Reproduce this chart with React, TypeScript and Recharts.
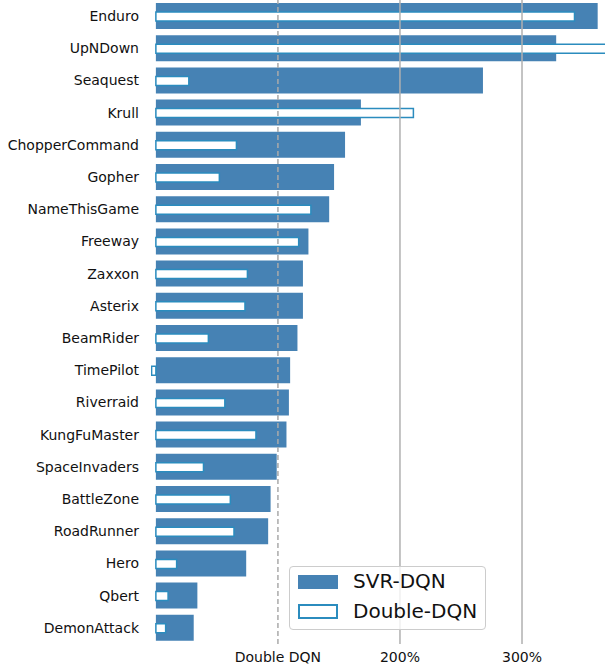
import { Bar, BarChart, ReferenceLine, XAxis, YAxis } from "recharts";

const games = [
  "Enduro", "UpNDown", "Seaquest", "Krull", "ChopperCommand", "Gopher", "NameThisGame",
  "Freeway", "Zaxxon", "Asterix", "BeamRider", "TimePilot", "Riverraid", "KungFuMaster",
  "SpaceInvaders", "BattleZone", "RoadRunner", "Hero", "Qbert", "DemonAttack",
];
const svrDqn = [362, 328, 268, 168, 155, 146, 142, 125, 120.5, 120.5, 116, 110, 109, 107, 99, 94, 92, 74, 34, 31];
const doubleDqn = [343, 380, 27, 211, 66, 52, 127, 117, 75, 73, 43, -3.5, 56.5, 82, 39, 61, 64, 17, 10, 8];
const xTicks = [100, 200, 300];

const data = games.map((game, i) => ({ game, svr: svrDqn[i], ddqn: doubleDqn[i] }));

const FILL = "#4682b4";
const OUTLINE = "#2b8cbe";
const FONT = "'DejaVu Sans', sans-serif";

function tickLabel(v: number) {
  return v === 100 ? "Double DQN" : `${v}%`;
}

export default function App() {
  return (
    <div style={{ position: "absolute", left: 0, top: 0, width: 605, height: 669, fontFamily: FONT }}>
      <BarChart
        width={605}
        height={669}
        data={data}
        layout="vertical"
        margin={{ top: 0, right: 0, bottom: 0, left: 0 }}
      >
        <XAxis
          type="number"
          dataKey="svr"
          domain={[-4, 368]}
          ticks={xTicks}
          tickFormatter={tickLabel}
          axisLine={false}
          tickLine={false}
          height={25}
          tick={{ fill: "#111", fontSize: 14, fontFamily: FONT }}
          allowDataOverflow
        />
        <YAxis
          yAxisId="a"
          type="category"
          dataKey="game"
          width={151}
          axisLine={false}
          tickLine={false}
          tickSize={0}
          tickMargin={12}
          tick={{ fill: "#111", fontSize: 14, fontFamily: FONT }}
          interval={0}
        />
        <YAxis yAxisId="b" type="category" dataKey="game" hide />
        <ReferenceLine yAxisId="a" x={100} stroke="#aaaaaa" strokeWidth={1.5} strokeDasharray="5 3" />
        <ReferenceLine yAxisId="a" x={200} stroke="#b0b0b0" strokeWidth={1.5} />
        <ReferenceLine yAxisId="a" x={300} stroke="#b0b0b0" strokeWidth={1.5} />
        <Bar yAxisId="a" dataKey="svr" fill={FILL} barSize={26} isAnimationActive={false} />
        <Bar
          yAxisId="b"
          dataKey="ddqn"
          fill="#ffffff"
          stroke={OUTLINE}
          strokeWidth={1.5}
          barSize={9}
          isAnimationActive={false}
        />
      </BarChart>
      <div
        style={{
          position: "absolute",
          left: 289,
          top: 566,
          width: 197,
          height: 64,
          border: "1px solid #cccccc",
          borderRadius: 4,
          background: "rgba(255,255,255,0.8)",
          boxSizing: "border-box",
          fontSize: 20,
          color: "#111",
        }}
      >
        <div style={{ position: "absolute", left: 8, top: 8, width: 40, height: 14, background: FILL }} />
        <div style={{ position: "absolute", left: 63, top: 2, lineHeight: "25px" }}>SVR-DQN</div>
        <div
          style={{
            position: "absolute",
            left: 8,
            top: 37,
            width: 40,
            height: 15,
            background: "#fff",
            border: `2px solid ${OUTLINE}`,
            boxSizing: "border-box",
          }}
        />
        <div style={{ position: "absolute", left: 63, top: 32, lineHeight: "25px" }}>Double-DQN</div>
      </div>
    </div>
  );
}
